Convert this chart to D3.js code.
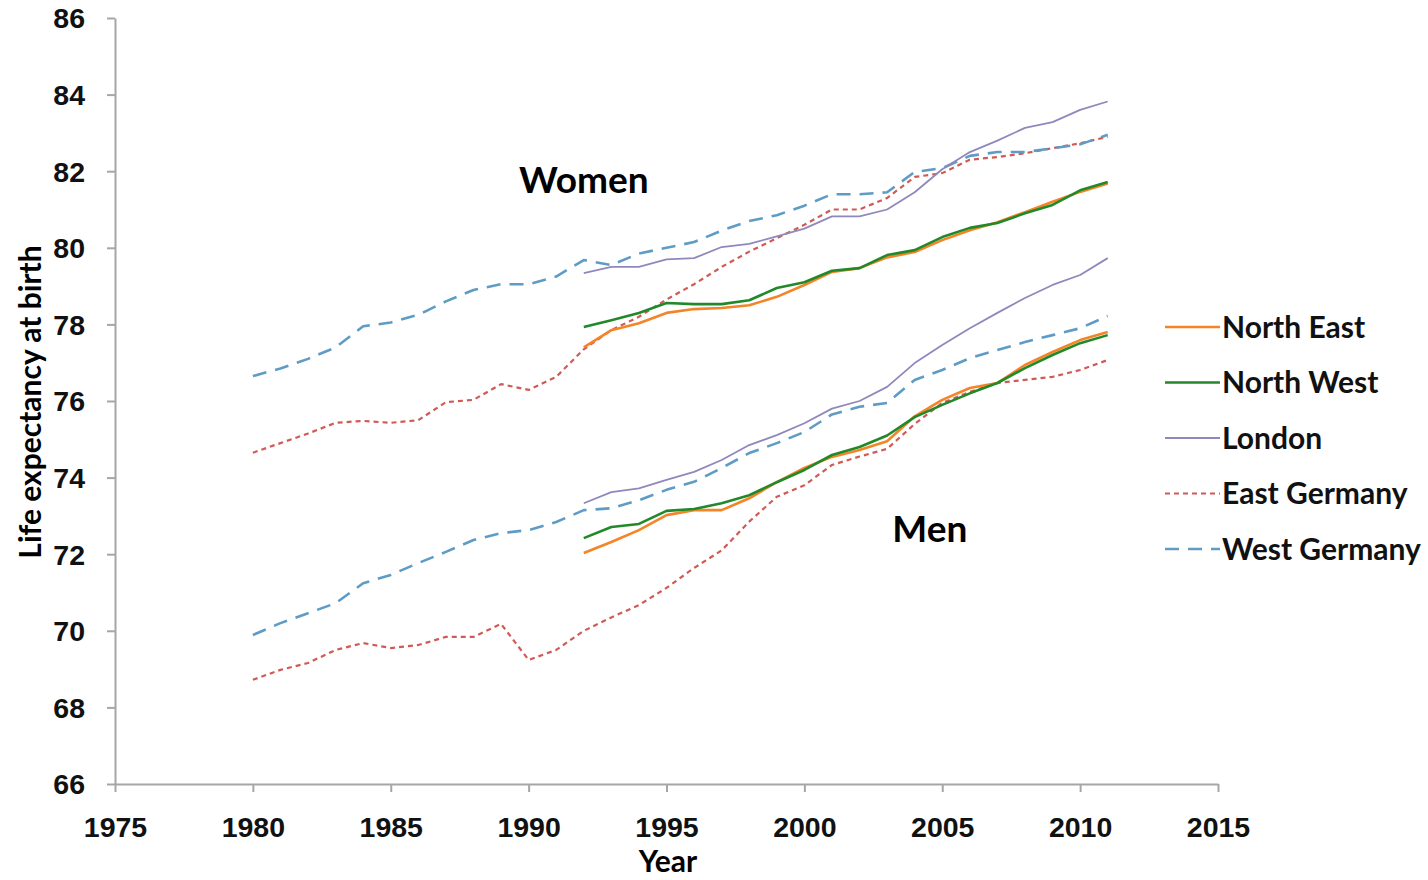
<!DOCTYPE html>
<html>
<head>
<meta charset="utf-8">
<script src="https://cdn.jsdelivr.net/npm/d3@7"></script>
<style>
  body { margin: 0; background: #fff; }
  svg { font-family: Lato, "Open Sans", sans-serif; font-weight: bold; }
  .axis path, .axis line { stroke: #a6a6a6; stroke-width: 2; }
  .axis text { font-size: 28.5px; font-weight: bold; fill: #111; }
</style>
</head>
<body>
<svg id="chart" width="1428" height="880"></svg>
<script>
// years
var yearsGer = [1980, 1981, 1982, 1983, 1984, 1985, 1986, 1987, 1988, 1989, 1990, 1991,
  1992, 1993, 1994, 1995, 1996, 1997, 1998, 1999, 2000, 2001, 2002, 2003, 2004, 2005,
  2006, 2007, 2008, 2009, 2010, 2011];
var yearsUK = [1992, 1993, 1994, 1995, 1996, 1997, 1998, 1999, 2000, 2001, 2002, 2003,
  2004, 2005, 2006, 2007, 2008, 2009, 2010, 2011];

// women
var westGerWomen = [76.65, 76.85, 77.1, 77.4, 77.95, 78.05, 78.25, 78.6, 78.9, 79.05, 79.05, 79.25,
  79.68, 79.55, 79.85, 80.0, 80.15, 80.45, 80.7, 80.85, 81.1, 81.4, 81.4, 81.45, 81.98, 82.08,
  82.4, 82.5, 82.5, 82.6, 82.7, 82.95];
var eastGerWomen = [74.65, 74.9, 75.15, 75.43, 75.48, 75.43, 75.5, 75.97, 76.03, 76.44, 76.29, 76.63,
  77.35, 77.85, 78.2, 78.65, 79.05, 79.5, 79.9, 80.25, 80.6, 81.0, 81.0, 81.3, 81.85, 81.95,
  82.3, 82.37, 82.47, 82.6, 82.73, 82.9];
var londonWomen = [79.34, 79.5, 79.5, 79.7, 79.73, 80.02, 80.1, 80.3, 80.5, 80.82, 80.82, 81.0,
  81.45, 82.05, 82.5, 82.8, 83.13, 83.28, 83.6, 83.82];
var northEastWomen = [77.4, 77.85, 78.03, 78.3, 78.4, 78.43, 78.5, 78.72, 79.03, 79.37, 79.47, 79.75,
  79.89, 80.2, 80.46, 80.67, 80.93, 81.2, 81.46, 81.68];
var northWestWomen = [77.93, 78.11, 78.3, 78.56, 78.53, 78.53, 78.63, 78.95, 79.1, 79.4, 79.47, 79.81,
  79.94, 80.28, 80.52, 80.65, 80.9, 81.12, 81.5, 81.72];

// men
var westGerMen = [69.89, 70.2, 70.46, 70.72, 71.24, 71.46, 71.77, 72.06, 72.37, 72.55, 72.63, 72.84,
  73.15, 73.2, 73.41, 73.68, 73.89, 74.25, 74.64, 74.9, 75.19, 75.65, 75.85, 75.95, 76.55, 76.81,
  77.12, 77.33, 77.54, 77.72, 77.9, 78.22];
var eastGerMen = [68.72, 68.98, 69.16, 69.5, 69.68, 69.55, 69.63, 69.84, 69.84, 70.18, 69.24, 69.5,
  70.0, 70.35, 70.67, 71.12, 71.64, 72.1, 72.85, 73.5, 73.8, 74.33, 74.55, 74.75, 75.4, 75.95,
  76.24, 76.47, 76.55, 76.63, 76.81, 77.07];
var londonMen = [73.33, 73.62, 73.72, 73.94, 74.15, 74.46, 74.85, 75.11, 75.42, 75.8, 76.0, 76.37,
  76.99, 77.46, 77.9, 78.3, 78.69, 79.03, 79.29, 79.73];
var northEastMen = [72.03, 72.32, 72.63, 73.02, 73.15, 73.15, 73.46, 73.88, 74.25, 74.54, 74.72, 74.95,
  75.6, 76.03, 76.34, 76.47, 76.94, 77.28, 77.59, 77.8];
var northWestMen = [72.42, 72.71, 72.79, 73.13, 73.18, 73.33, 73.54, 73.88, 74.2, 74.59, 74.8, 75.1,
  75.58, 75.9, 76.2, 76.47, 76.86, 77.2, 77.51, 77.72];

var xTicks = [1975, 1980, 1985, 1990, 1995, 2000, 2005, 2010, 2015];
var yTicks = [66, 68, 70, 72, 74, 76, 78, 80, 82, 84, 86];

var legendNames = ["North East", "North West", "London", "East Germany", "West Germany"];
var legendColors = ["#f48426", "#22892a", "#9088bc", "#d05a55", "#5f9cc5"];
var legendWidths = [2.6, 2.6, 1.8, 2.2, 2.6];
var legendDash = [null, null, null, "5,4", "14,9"];

var series = [
  { k: 3, years: yearsGer, vals: eastGerWomen },
  { k: 3, years: yearsGer, vals: eastGerMen },
  { k: 4, years: yearsGer, vals: westGerWomen },
  { k: 4, years: yearsGer, vals: westGerMen },
  { k: 2, years: yearsUK, vals: londonWomen },
  { k: 2, years: yearsUK, vals: londonMen },
  { k: 0, years: yearsUK, vals: northEastWomen },
  { k: 0, years: yearsUK, vals: northEastMen },
  { k: 1, years: yearsUK, vals: northWestWomen },
  { k: 1, years: yearsUK, vals: northWestMen }
];

var svg = d3.select("#chart");
var plotLeft = 115, plotTop = 18, plotRight = 1218, plotBottom = 784;

var x = d3.scaleLinear().domain([1975, 2015]).range([plotLeft, plotRight]);
var y = d3.scaleLinear().domain([66, 86]).range([plotBottom, plotTop]);

svg.append("g")
  .attr("class", "axis")
  .attr("transform", "translate(" + plotLeft + ",0)")
  .call(d3.axisLeft(y).tickValues(yTicks).tickSize(8).tickSizeOuter(0).tickPadding(22))
  .call(function(g) { g.selectAll("text").attr("dy", "0.35em"); });

svg.append("g")
  .attr("class", "axis")
  .attr("transform", "translate(0," + plotBottom + ")")
  .call(d3.axisBottom(x).tickValues(xTicks).tickFormat(d3.format("d")).tickSize(8).tickSizeOuter(0).tickPadding(25));

var line = d3.line()
  .x(function(d) { return x(d[0]); })
  .y(function(d) { return y(d[1]); });

series.forEach(function(s) {
  var pts = s.years.map(function(yr, i) { return [yr, s.vals[i]]; });
  svg.append("path")
    .datum(pts)
    .attr("fill", "none")
    .attr("stroke", legendColors[s.k])
    .attr("stroke-width", legendWidths[s.k])
    .attr("stroke-dasharray", legendDash[s.k])
    .attr("stroke-linejoin", "round")
    .attr("d", line);
});

// axis titles
svg.append("text")
  .attr("x", 668).attr("y", 872)
  .attr("text-anchor", "middle")
  .attr("font-size", 30)
  .text("Year");

svg.append("text")
  .attr("transform", "translate(41,402) rotate(-90)")
  .attr("text-anchor", "middle")
  .attr("font-size", 30)
  .text("Life expectancy at birth");

// annotations
svg.append("text")
  .attr("x", x(1992.0)).attr("y", y(81.43))
  .attr("text-anchor", "middle")
  .attr("font-size", 37)
  .text("Women");

svg.append("text")
  .attr("x", x(2004.55)).attr("y", y(72.32))
  .attr("text-anchor", "middle")
  .attr("font-size", 37)
  .text("Men");

// legend
var legend = svg.append("g").attr("transform", "translate(1165,327)");
legendNames.forEach(function(name, i) {
  var g = legend.append("g").attr("transform", "translate(0," + (i * 55.5) + ")");
  g.append("line")
    .attr("x1", 0).attr("x2", 55)
    .attr("stroke", legendColors[i])
    .attr("stroke-width", legendWidths[i])
    .attr("stroke-dasharray", legendDash[i]);
  g.append("text")
    .attr("x", 57).attr("dy", "0.35em")
    .attr("font-size", 30)
    .attr("fill", "#111")
    .text(name);
});
</script>
</body>
</html>
